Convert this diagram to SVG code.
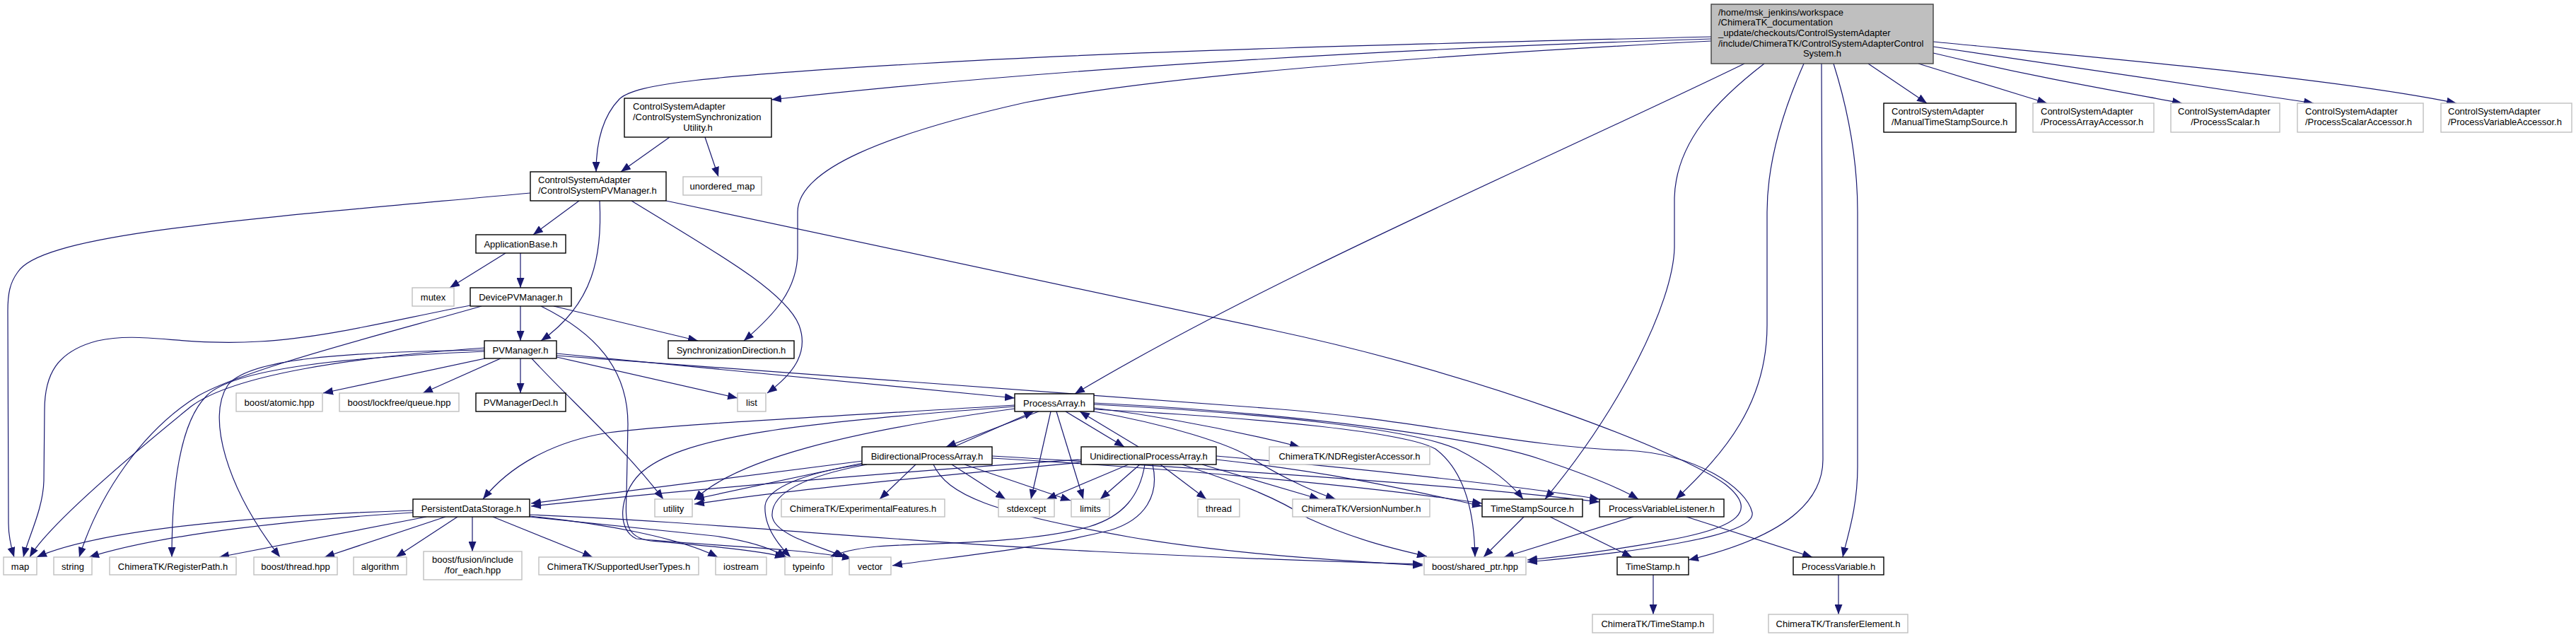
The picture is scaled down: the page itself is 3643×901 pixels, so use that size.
<svg xmlns="http://www.w3.org/2000/svg" width="3643" height="901" viewBox="0 0 3643 901">
<defs>
<marker id="a" markerUnits="userSpaceOnUse" markerWidth="14" markerHeight="11" refX="14" refY="5.5" orient="auto" viewBox="0 0 14 11"><path d="M0,0 L14,5.5 L0,11 z" fill="#191970"/></marker>
</defs>
<style>
text{font-family:"Liberation Sans",Arial,Helvetica,sans-serif;font-size:13px;fill:#000}
.c{text-anchor:middle}
.b rect{fill:#fff;stroke:#000;stroke-width:1.4}
.g rect{fill:#fff;stroke:#bfbfbf;stroke-width:1.4}
.cur rect{fill:#bfbfbf;stroke:#404040;stroke-width:1.4}
#edges path{fill:none;stroke:#191970;stroke-width:1.2;marker-end:url(#a)}
</style>
<rect width="3643" height="901" fill="#fff"/>
<g id="edges">
<path d="M2420,52 C2000,62 1600,72 1300,90 C1000,108 900,118 876,140 C852,165 843,200 843,243"/>
<path d="M2420,55 C2000,68 1500,95 1091,141"/>
<path d="M2420,58 C1900,85 1600,115 1450,145 C1250,190 1128,240 1128,300 L1128,357 C1128,410 1095,445 1052,482"/>
<path d="M2467,90 C2200,220 1800,390 1520,557"/>
<path d="M2495,90 C2430,140 2370,200 2368,280 L2368,350 C2366,430 2290,580 2185,706"/>
<path d="M2551,90 C2520,160 2499,230 2499,300 L2499,460 C2499,570 2440,640 2370,706"/>
<path d="M2576,90 L2578,650 C2578,730 2480,770 2388,792"/>
<path d="M2593,90 C2615,160 2627,230 2627,300 L2627,660 C2627,720 2612,760 2606,788"/>
<path d="M2642,90 L2725,146"/>
<path d="M2713,90 L2895,146"/>
<path d="M2734,75 C2880,110 3000,130 3086,146"/>
<path d="M2734,66 C2900,90 3100,120 3272,146"/>
<path d="M2734,59 C2950,80 3300,110 3474,146"/>
<path d="M947,194 L878,243"/>
<path d="M997,194 L1016,250"/>
<path d="M819,284 L754,332"/>
<path d="M848,284 C852,360 840,430 765,482"/>
<path d="M893,284 C1000,350 1110,410 1130,460 C1145,500 1120,530 1085,556"/>
<path d="M942,284 L1800,467 C2100,531 2380,640 2440,685 C2490,725 2450,745 2380,760 C2300,776 2230,785 2160,792"/>
<path d="M750,273 C350,310 60,330 25,385 C14,400 11,415 11,440 L12,740 C12,760 16,775 20,788"/>
<path d="M715,358 L636,407"/>
<path d="M736,358 L736,407"/>
<path d="M736,433 L736,482"/>
<path d="M783,433 L987,482"/>
<path d="M665,432 C560,452 460,478 367,483 C260,490 200,468 138,482 C80,497 63,530 63,580 L62,680 C61,720 40,760 33,788"/>
<path d="M681,433 C560,468 350,520 280,560 C200,610 140,700 112,788"/>
<path d="M765,433 C840,470 888,520 888,600 L886,700 C884,740 885,760 920,765 C1000,772 1070,778 1110,788"/>
<path d="M686,492 C500,505 330,530 270,575 C190,640 70,740 42,788"/>
<path d="M685,497 C500,505 330,520 292,560 C252,600 243,700 243,788"/>
<path d="M685,495 C480,498 350,508 322,545 C292,590 320,690 396,788"/>
<path d="M686,507 L457,556"/>
<path d="M708,507 L598,556"/>
<path d="M736,507 L736,556"/>
<path d="M787,505 L1043,563"/>
<path d="M787,500 L1435,563"/>
<path d="M787,503 L1800,578 C2000,593 2150,632 2300,637 C2400,642 2470,690 2478,725 C2484,760 2300,782 2160,795"/>
<path d="M752,507 C800,560 880,630 938,706"/>
<path d="M1469,582 L1338,632"/>
<path d="M1349,632 L1462,582"/>
<path d="M1507,582 L1590,632"/>
<path d="M1610,632 L1527,582"/>
<path d="M1486,582 L1458,706"/>
<path d="M1494,582 L1532,706"/>
<path d="M1435,573 C1200,588 950,600 860,612 C780,625 720,660 683,706"/>
<path d="M1435,578 C1200,610 1040,650 982,707"/>
<path d="M1435,575 C1100,600 960,620 905,670 C875,700 872,750 900,762 C1000,772 1130,775 1205,790"/>
<path d="M1547,577 C1650,590 1750,610 1838,632"/>
<path d="M1547,582 C1650,600 1740,628 1770,648 C1820,680 1870,700 1889,706"/>
<path d="M1547,572 C1800,585 2000,608 2060,635 C2110,660 2140,688 2154,706"/>
<path d="M1547,570 C1850,585 2100,622 2180,650 C2240,670 2290,690 2317,706"/>
<path d="M1547,579 C1800,592 1990,612 2030,635 C2070,665 2085,720 2086,788"/>
<path d="M1295,657 L1244,706"/>
<path d="M1346,657 L1422,706"/>
<path d="M1364,657 L1514,708"/>
<path d="M1320,657 C1340,700 1400,725 1600,760 C1750,785 1900,793 2012,800"/>
<path d="M1220,657 C1140,668 1085,690 1082,715 C1080,745 1100,770 1118,788"/>
<path d="M1226,657 C1130,675 1090,700 1092,730 C1095,755 1150,770 1196,788"/>
<path d="M1220,655 L982,706"/>
<path d="M1220,652 L751,712"/>
<path d="M1403,648 C1700,665 1950,690 2096,712"/>
<path d="M1403,645 C1800,668 2100,690 2262,710"/>
<path d="M1596,657 L1480,706"/>
<path d="M1612,657 L1556,706"/>
<path d="M1641,657 L1706,706"/>
<path d="M1619,657 C1612,700 1590,730 1540,745 C1450,770 1300,768 1240,773 C1210,776 1190,780 1174,788"/>
<path d="M1630,657 C1640,700 1620,735 1570,750 C1450,780 1320,790 1262,800"/>
<path d="M1529,654 C1300,675 1100,695 982,713"/>
<path d="M1529,650 C1300,665 1000,690 751,716"/>
<path d="M1700,657 L1866,706"/>
<path d="M1720,650 C1900,670 2000,695 2096,716"/>
<path d="M1720,645 C1950,665 2150,688 2262,706"/>
<path d="M1672,657 C1740,680 1800,700 1850,733 C1920,765 1975,777 2018,787"/>
<path d="M584,722 C400,728 150,745 52,788"/>
<path d="M584,725 C420,735 230,755 126,788"/>
<path d="M603,731 L310,788"/>
<path d="M630,731 L459,788"/>
<path d="M647,731 L560,788"/>
<path d="M668,731 L668,780"/>
<path d="M697,731 L838,788"/>
<path d="M749,730 C850,740 960,760 1015,788"/>
<path d="M749,731 C850,742 950,752 1010,758 C1060,765 1090,775 1112,788"/>
<path d="M749,728 C1000,738 1250,765 1550,780 C1750,790 1900,795 2012,798"/>
<path d="M2155,731 L2098,788"/>
<path d="M2192,731 L2308,788"/>
<path d="M2310,731 L2127,788"/>
<path d="M2385,731 L2563,788"/>
<path d="M2338,813 L2338,869"/>
<path d="M2600,813 L2600,869"/>
</g>
<g id="n_csac" class="cur"><rect x="2420" y="6" width="314" height="84"/><text x="2430" y="21.5">/home/msk_jenkins/workspace</text><text x="2430" y="36.2">/ChimeraTK_documentation</text><text x="2430" y="50.9">_update/checkouts/ControlSystemAdapter</text><text x="2430" y="65.6">/include/ChimeraTK/ControlSystemAdapterControl</text><text class="c" x="2577" y="80.3">System.h</text></g>
<g id="n_syncutil" class="b"><rect x="883" y="139" width="208" height="55"/><text x="895" y="155">ControlSystemAdapter</text><text x="895" y="170">/ControlSystemSynchronization</text><text class="c" x="987" y="184.5">Utility.h</text></g>
<g id="n_cspvm" class="b"><rect x="750" y="243" width="192" height="41"/><text x="761" y="258.5">ControlSystemAdapter</text><text x="761" y="273.5">/ControlSystemPVManager.h</text></g>
<g id="n_unordered_map" class="g"><rect x="966" y="250" width="111" height="26"/><text class="c" x="1021.5" y="267.5">unordered_map</text></g>
<g id="n_appbase" class="b"><rect x="673" y="332" width="127" height="26"/><text class="c" x="736.5" y="349.5">ApplicationBase.h</text></g>
<g id="n_mutex" class="g"><rect x="583" y="407" width="59" height="26"/><text class="c" x="612.5" y="424.5">mutex</text></g>
<g id="n_dpvm" class="b"><rect x="665" y="407" width="143" height="26"/><text class="c" x="736.5" y="424.5">DevicePVManager.h</text></g>
<g id="n_pvmanager" class="b"><rect x="685" y="482" width="102" height="25"/><text class="c" x="736" y="499.5">PVManager.h</text></g>
<g id="n_syncdir" class="b"><rect x="945" y="482" width="178" height="25"/><text class="c" x="1034" y="499.5">SynchronizationDirection.h</text></g>
<g id="n_atomic" class="g"><rect x="334" y="556" width="122" height="26"/><text class="c" x="395" y="573.5">boost/atomic.hpp</text></g>
<g id="n_lockfree" class="g"><rect x="480" y="556" width="169" height="26"/><text class="c" x="564.5" y="573.5">boost/lockfree/queue.hpp</text></g>
<g id="n_pvmdecl" class="b"><rect x="673" y="556" width="127" height="26"/><text class="c" x="736.5" y="573.5">PVManagerDecl.h</text></g>
<g id="n_list" class="g"><rect x="1043" y="556" width="40" height="26"/><text class="c" x="1063" y="573.5">list</text></g>
<g id="n_pa" class="b"><rect x="1435" y="557" width="112" height="25"/><text class="c" x="1491" y="574.5">ProcessArray.h</text></g>
<g id="n_bpa" class="b"><rect x="1219" y="632" width="184" height="25"/><text class="c" x="1311" y="649.5">BidirectionalProcessArray.h</text></g>
<g id="n_upa" class="b"><rect x="1529" y="632" width="191" height="25"/><text class="c" x="1624.5" y="649.5">UnidirectionalProcessArray.h</text></g>
<g id="n_ndreg" class="g"><rect x="1795" y="632" width="227" height="25"/><text class="c" x="1908.5" y="649.5">ChimeraTK/NDRegisterAccessor.h</text></g>
<g id="n_pds" class="b"><rect x="584" y="706" width="165" height="25"/><text class="c" x="666.5" y="723.5">PersistentDataStorage.h</text></g>
<g id="n_utility" class="g"><rect x="926" y="706" width="53" height="25"/><text class="c" x="952.5" y="723.5">utility</text></g>
<g id="n_expfeat" class="g"><rect x="1105" y="706" width="231" height="25"/><text class="c" x="1220.5" y="723.5">ChimeraTK/ExperimentalFeatures.h</text></g>
<g id="n_stdexcept" class="g"><rect x="1412" y="706" width="79" height="25"/><text class="c" x="1451.5" y="723.5">stdexcept</text></g>
<g id="n_limits" class="g"><rect x="1515" y="706" width="54" height="25"/><text class="c" x="1542" y="723.5">limits</text></g>
<g id="n_thread" class="g"><rect x="1694" y="706" width="59" height="25"/><text class="c" x="1723.5" y="723.5">thread</text></g>
<g id="n_version" class="g"><rect x="1828" y="706" width="194" height="25"/><text class="c" x="1925" y="723.5">ChimeraTK/VersionNumber.h</text></g>
<g id="n_tss" class="b"><rect x="2096" y="706" width="142" height="25"/><text class="c" x="2167" y="723.5">TimeStampSource.h</text></g>
<g id="n_pvl" class="b"><rect x="2262" y="706" width="176" height="25"/><text class="c" x="2350" y="723.5">ProcessVariableListener.h</text></g>
<g id="n_map" class="g"><rect x="5" y="788" width="47" height="25"/><text class="c" x="28.5" y="805.5">map</text></g>
<g id="n_string" class="g"><rect x="76" y="788" width="54" height="25"/><text class="c" x="103" y="805.5">string</text></g>
<g id="n_regpath" class="g"><rect x="155" y="788" width="179" height="25"/><text class="c" x="244.5" y="805.5">ChimeraTK/RegisterPath.h</text></g>
<g id="n_bthread" class="g"><rect x="359" y="788" width="118" height="25"/><text class="c" x="418" y="805.5">boost/thread.hpp</text></g>
<g id="n_algorithm" class="g"><rect x="500" y="788" width="75" height="25"/><text class="c" x="537.5" y="805.5">algorithm</text></g>
<g id="n_foreach" class="g"><rect x="599" y="780" width="139" height="40"/><text class="c" x="668.5" y="795.5">boost/fusion/include</text><text class="c" x="668.5" y="810.5">/for_each.hpp</text></g>
<g id="n_supported" class="g"><rect x="762" y="788" width="226" height="25"/><text class="c" x="875" y="805.5">ChimeraTK/SupportedUserTypes.h</text></g>
<g id="n_iostream" class="g"><rect x="1012" y="788" width="72" height="25"/><text class="c" x="1048" y="805.5">iostream</text></g>
<g id="n_typeinfo" class="g"><rect x="1110" y="788" width="67" height="25"/><text class="c" x="1143.5" y="805.5">typeinfo</text></g>
<g id="n_vector" class="g"><rect x="1201" y="788" width="59" height="25"/><text class="c" x="1230.5" y="805.5">vector</text></g>
<g id="n_sharedptr" class="g"><rect x="2014" y="788" width="144" height="25"/><text class="c" x="2086" y="805.5">boost/shared_ptr.hpp</text></g>
<g id="n_timestamp" class="b"><rect x="2287" y="788" width="101" height="25"/><text class="c" x="2337.5" y="805.5">TimeStamp.h</text></g>
<g id="n_pv" class="b"><rect x="2536" y="788" width="128" height="25"/><text class="c" x="2600" y="805.5">ProcessVariable.h</text></g>
<g id="n_ctkts" class="g"><rect x="2252" y="869" width="171" height="26"/><text class="c" x="2337.5" y="886.5">ChimeraTK/TimeStamp.h</text></g>
<g id="n_transfer" class="g"><rect x="2501" y="869" width="197" height="26"/><text class="c" x="2599.5" y="886.5">ChimeraTK/TransferElement.h</text></g>
<g id="n_manual" class="b"><rect x="2664" y="146" width="187" height="41"/><text x="2675" y="161.5">ControlSystemAdapter</text><text x="2675" y="176.5">/ManualTimeStampSource.h</text></g>
<g id="n_paacc" class="g"><rect x="2875" y="146" width="171" height="41"/><text x="2886" y="161.5">ControlSystemAdapter</text><text x="2886" y="176.5">/ProcessArrayAccessor.h</text></g>
<g id="n_pscalar" class="g"><rect x="3070" y="146" width="154" height="41"/><text x="3080" y="161.5">ControlSystemAdapter</text><text class="c" x="3147" y="176.5">/ProcessScalar.h</text></g>
<g id="n_psacc" class="g"><rect x="3249" y="146" width="178" height="41"/><text x="3260" y="161.5">ControlSystemAdapter</text><text x="3260" y="176.5">/ProcessScalarAccessor.h</text></g>
<g id="n_pvacc" class="g"><rect x="3452" y="146" width="185" height="41"/><text x="3462" y="161.5">ControlSystemAdapter</text><text x="3462" y="176.5">/ProcessVariableAccessor.h</text></g>
</svg>
